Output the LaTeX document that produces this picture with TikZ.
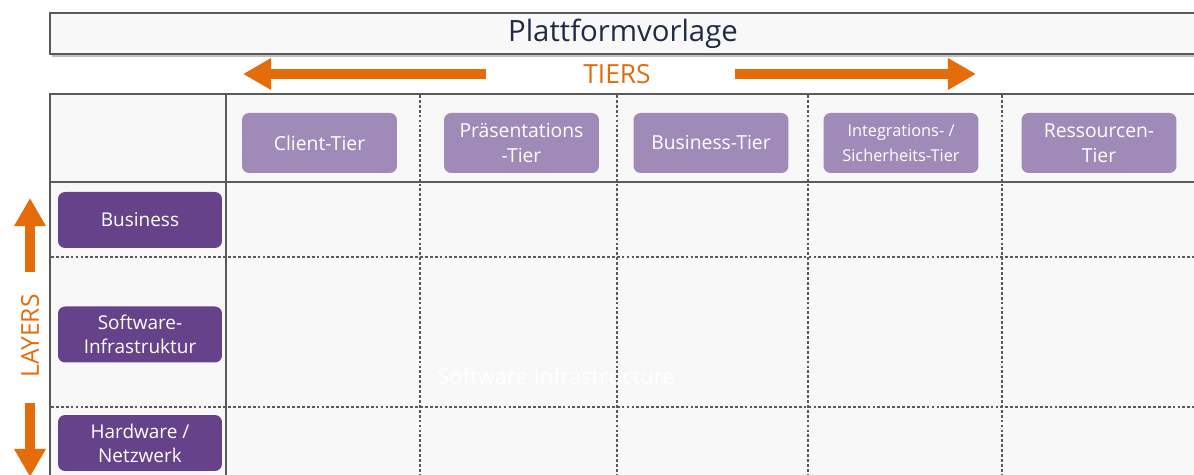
\documentclass[tikz,border=0pt]{standalone}
\usepackage{fontspec}
\setmainfont{Open Sans}
\usetikzlibrary{arrows.meta,positioning}
\definecolor{tierorange}{HTML}{E46C0A}
\definecolor{tierlila}{HTML}{A08BB8}
\definecolor{layerlila}{HTML}{66428B}
\definecolor{titleblue}{HTML}{1F2A44}
\definecolor{cellgray}{HTML}{F8F8F8}
\definecolor{linegray}{HTML}{5A5A5A}
\tikzset{
  tierbox/.style={rounded corners=4pt, fill=tierlila, text=white, align=center,
    minimum width=3.1cm, minimum height=1.2cm, inner sep=1pt,
    font=\fontsize{11}{14.5}\selectfont},
  layerbox/.style={rounded corners=4pt, fill=layerlila, text=white, align=center,
    minimum width=3.28cm, minimum height=1.12cm, inner sep=1pt,
    font=\fontsize{10.8}{13.6}\selectfont},
  solidline/.style={draw=linegray, line width=0.9pt},
  dashline/.style={draw=linegray, line width=0.8pt, dash pattern=on 1.6pt off 1.2pt},
  fatarrow/.style={draw=tierorange, line width=6pt, -{Triangle[length=16pt,width=17pt]}},
  arrowlabel/.style={text=tierorange, font=\fontsize{15}{17}\selectfont}
}
\begin{document}
\begin{tikzpicture}[x=0.02cm,y=-0.02cm]
  \useasboundingbox (0,0) rectangle (1194,475);
  \clip (0,0) rectangle (1194,475);
  \fill[white] (0,0) rectangle (1194,475);
  % title bar
  \fill[black!25] (52,15) rectangle (1200,57);
  \draw[solidline, fill=cellgray] (50,13) rectangle (1200,54);
  \node[text=titleblue, font=\fontsize{16.7}{18}\selectfont] (title) at (623,34) {Plattformvorlage};
  % tiers arrow
  \node[arrowlabel] (tiers) at (617,74) {TIERS};
  \coordinate (tl) at (243,74);
  \coordinate (tr) at (976,74);
  \draw[fatarrow] (486,74) -- (tl);
  \draw[fatarrow] (735,74) -- (tr);
  % table
  \fill[black!25] (52,96) rectangle (1200,480);
  \draw[solidline, fill=cellgray] (50,94) rectangle (1200,480);
  \foreach \x in {420,617,808,1002}
    \draw[dashline] (\x,95) -- (\x,475);
  \foreach \y in {257,407}
    \draw[dashline] (51,\y) -- (1194,\y);
  \draw[solidline] (50,182) -- (1194,182);
  \draw[solidline] (226,94) -- (226,475);
  % tiers
  \node[tierbox] (client) at (319.5,143) {Client-Tier};
  \node[tierbox] (praes) at (521.5,143) {Präsentations\\-Tier};
  \node[tierbox, font=\fontsize{9.3}{14.5}\selectfont] (integ) at (901,143) {Integrations- /\\Sicherheits-Tier};
  \node[tierbox] (busitier) at (711,143) {Business-Tier};
  \node[tierbox] (ress) at (1099,143) {Ressourcen-\\Tier};
  % layers
  \node[layerbox] (business) at (140,220) {Business};
  \node[layerbox] (software) at (140,334.5) {Software-\\Infrastruktur};
  \node[layerbox] (hardware) at (140,443) {Hardware /\\Netzwerk};
  \node[arrowlabel, font=\fontsize{14}{16}\selectfont, rotate=90] (layers) at (30,336) {LAYERS};
  \coordinate (lu) at (30,198);
  \coordinate (ld) at (30,477);
  \draw[fatarrow, line width=5.5pt] (30,272) -- (lu);
  \draw[fatarrow, line width=5.5pt] (30,403) -- (ld);
  \node[text=white, font=\fontsize{12.5}{14}\selectfont] (ghost) at (556,376) {Software Infrastructure};
\end{tikzpicture}
\end{document}
